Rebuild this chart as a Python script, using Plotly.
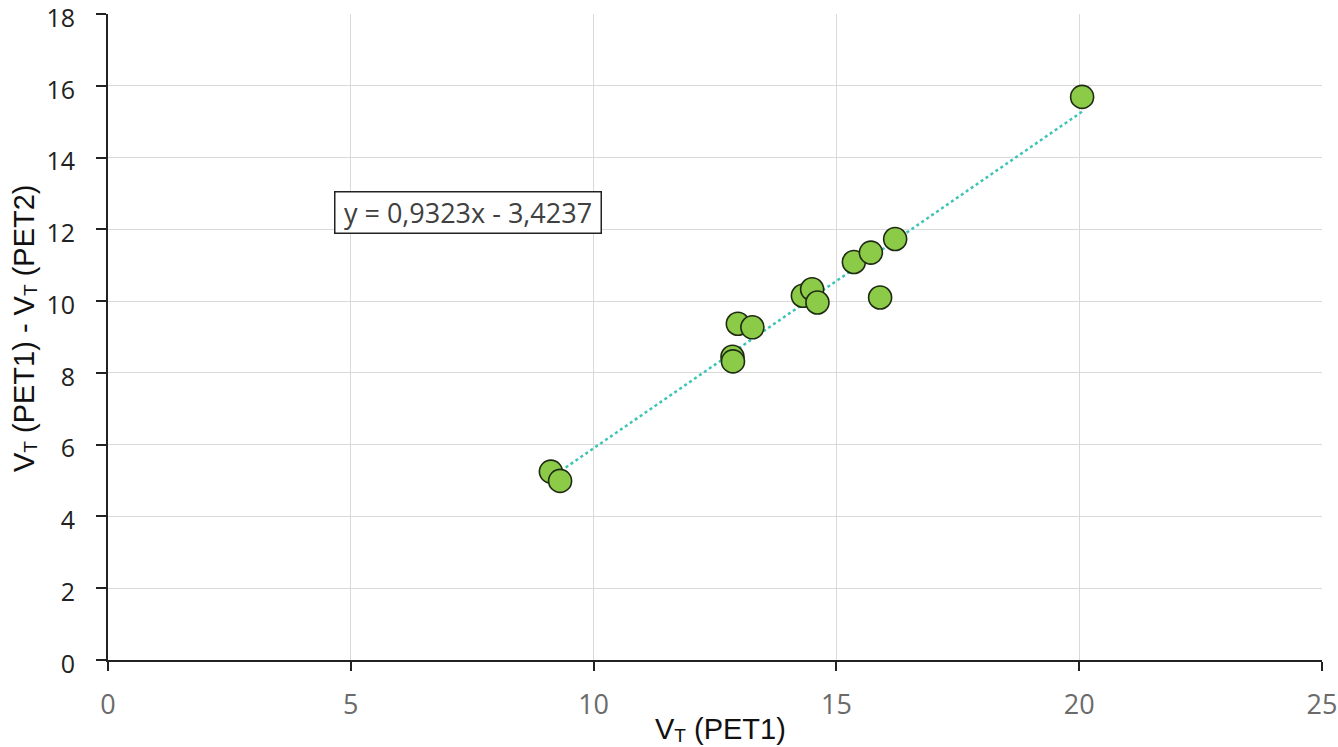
import numpy as np
import plotly.graph_objects as go

# V_T measured at PET1 and the PET1 - PET2 difference
vt_pet1 = [9.12, 9.31, 12.86, 12.87, 12.97, 13.27, 14.31, 14.50, 14.61,
           15.36, 15.71, 16.21, 15.90, 20.06]
vt_diff = [5.25, 4.99, 8.45, 8.32, 9.37, 9.27, 10.15, 10.33, 9.96,
           11.09, 11.35, 11.73, 10.10, 15.69]

# Linear trend (as reported in the equation label)
slope = 0.9323
intercept = -3.4237
eq_text = "y = 0,9323x - 3,4237"

x_ticks = [0, 5, 10, 15, 20, 25]
y_ticks = [0, 2, 4, 6, 8, 10, 12, 14, 16, 18]

x_fit = np.array([min(vt_pet1), max(vt_pet1)])
y_fit = slope * x_fit + intercept

TITLE_FONT = dict(family="Liberation Sans, Arial, sans-serif", size=29, color="#111111")
SUB = '<span style="font-size:19px;baseline-shift:-3px">T</span>'

fig = go.Figure()

fig.add_trace(go.Scatter(
    x=x_fit, y=y_fit, mode="lines",
    line=dict(color="#3CC4B4", width=2.5, dash="dot"),
    hoverinfo="skip", showlegend=False,
))

fig.add_trace(go.Scatter(
    x=vt_pet1, y=vt_diff, mode="markers",
    marker=dict(size=23, color="#8CCB48",
                line=dict(color="#1E2A12", width=1.6)),
    showlegend=False,
))

# Equation label
fig.add_annotation(
    x=7.42, y=12.47, xref="x", yref="y", text=eq_text, showarrow=False,
    width=263, height=38, align="center", valign="middle",
    font=dict(family="Open Sans, sans-serif", size=27, color="#404040"),
    bordercolor="#222222", borderwidth=1.5, borderpad=1, bgcolor="white",
)

# Axis titles
fig.add_annotation(
    x=0.5, y=0, xref="paper", yref="paper", xshift=5, yshift=-69,
    xanchor="center", yanchor="middle", showarrow=False,
    text=f"V{SUB} (PET1)", font=TITLE_FONT,
)
fig.add_annotation(
    x=0, y=0.5, xref="paper", yref="paper", xshift=-84, yshift=8,
    xanchor="center", yanchor="middle", showarrow=False, textangle=-90,
    text=f"V{SUB} (PET1) - V{SUB} (PET2)", font=TITLE_FONT,
)

fig.update_xaxes(
    range=[0, 25], tickvals=x_ticks, ticktext=[str(v) for v in x_ticks],
    showgrid=True, gridcolor="#D9D9D9", gridwidth=1,
    showline=True, linecolor="#222222", linewidth=2,
    ticks="outside", ticklen=9, tickcolor="#222222", tickwidth=1.5,
    zeroline=False, automargin=False, ticklabelstandoff=11,
    ticklabeloverflow="allow",
    tickfont=dict(family="Open Sans, sans-serif", size=27, color="#6B6B6B"),
)
fig.update_yaxes(
    range=[0, 18], tickvals=y_ticks, ticktext=[str(v) for v in y_ticks],
    showgrid=True, gridcolor="#D9D9D9", gridwidth=1,
    showline=True, linecolor="#222222", linewidth=2,
    ticks="outside", ticklen=10, tickcolor="#222222", tickwidth=1.5,
    zeroline=False, automargin=False, ticklabelstandoff=16,
    ticklabelshift=4, ticklabeloverflow="allow",
    tickfont=dict(family="Open Sans, sans-serif", size=25, color="#222222"),
)

fig.update_layout(
    width=1338, height=747,
    margin=dict(l=108, r=16, t=14, b=87, autoexpand=False),
    plot_bgcolor="white", paper_bgcolor="white",
)

fig.write_html("out.html")
